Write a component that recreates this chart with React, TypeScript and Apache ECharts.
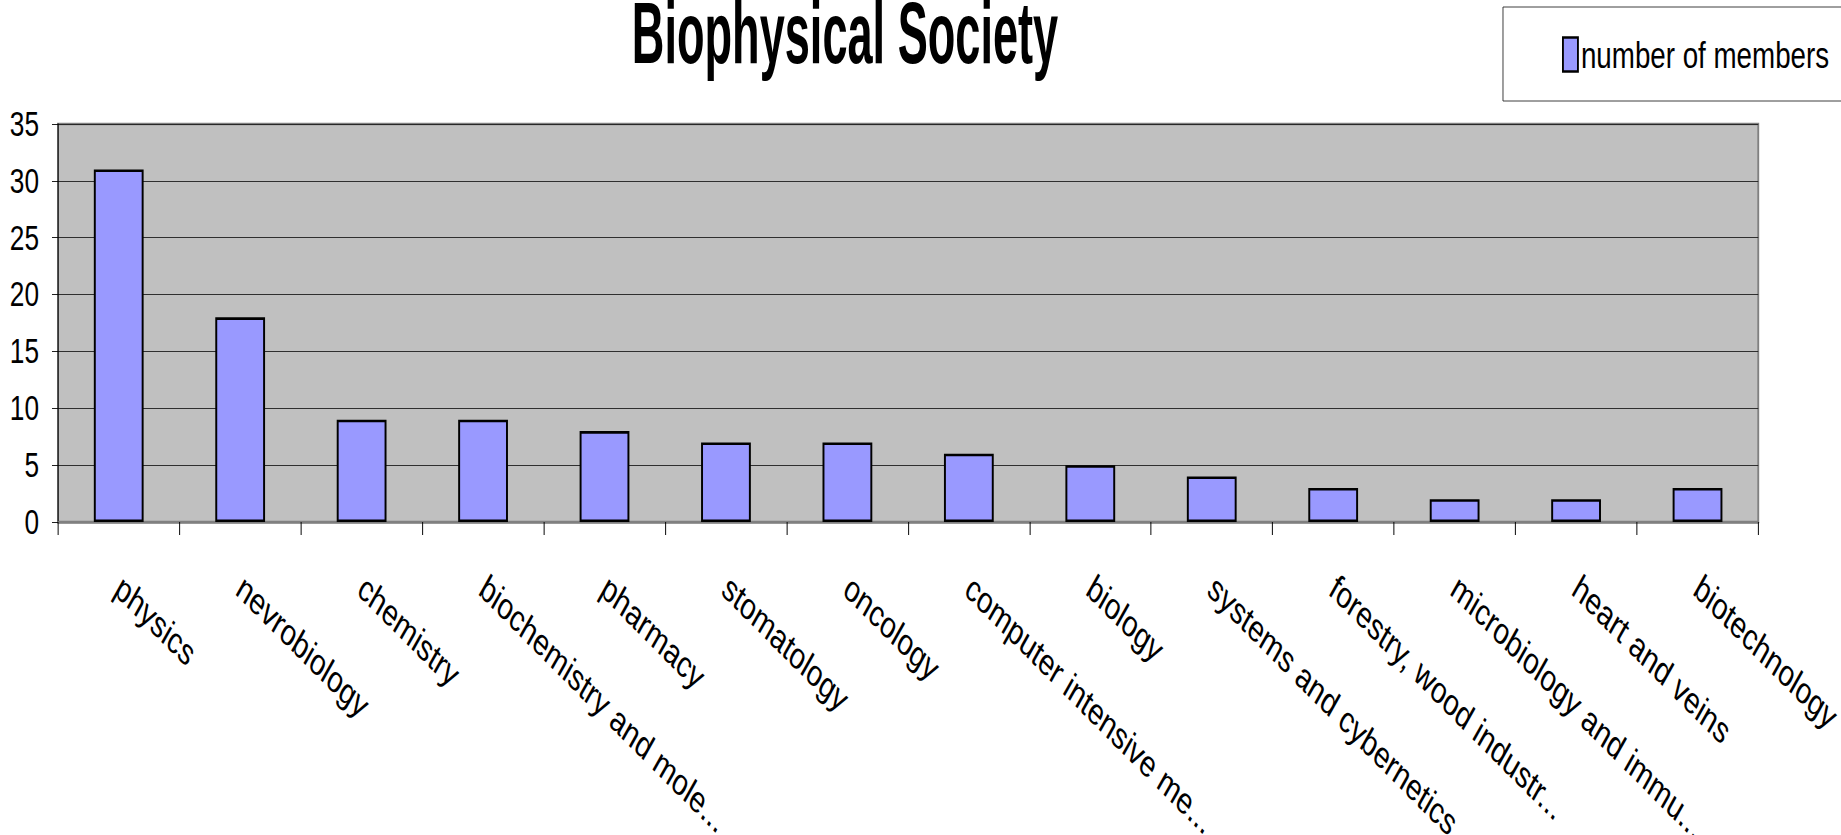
import React, { useEffect, useRef } from "react";
import * as echarts from "echarts";

const categories = [
  "physics",
  "nevrobiology",
  "chemistry",
  "biochemistry and mole...",
  "pharmacy",
  "stomatology",
  "oncology",
  "computer intensive me...",
  "biology",
  "systems and cybernetics",
  "forestry, wood industr...",
  "microbiology and immu...",
  "heart and veins",
  "biotechnology",
];
const members = [31, 18, 9, 9, 8, 7, 7, 6, 5, 4, 3, 2, 2, 3];
const seriesName = "number of members";
const titleText = "Biophysical Society";
const yMin = 0;
const yMax = 35;
const yInterval = 5;

// horizontal compression of the whole drawing (the reference's text is condensed)
const S = 0.75;
const W = 1841;
const H = 835;
const FONT = "'Liberation Sans', Arial, sans-serif";

export default function App() {
  const ref = useRef<HTMLDivElement>(null);
  useEffect(() => {
    if (!ref.current) return;
    const chart = echarts.init(ref.current, null, { renderer: "svg" });
    const sx = (v: number) => v / S;
    chart.setOption({
      animation: false,
      backgroundColor: "#ffffff",
      textStyle: { fontFamily: FONT },
      graphic: [
        {
          type: "text",
          x: sx(845),
          y: 33,
          scaleX: 0.513 / S,
          style: {
            text: titleText,
            font: "bold 88px 'Liberation Sans', Arial, sans-serif",
            fill: "#000",
            textAlign: "center",
            textVerticalAlign: "middle",
            align: "center",
            verticalAlign: "middle",
          },
        },
      ],
      legend: {
        left: sx(1503),
        top: 7,
        orient: "horizontal",
        padding: [29, sx(60), 28, sx(59)],
        backgroundColor: "#ffffff",
        borderColor: "#222",
        borderWidth: 1,
        itemWidth: sx(15),
        itemHeight: 34,
        itemGap: 5,
        icon: "rect",
        itemStyle: { color: "#9999FF", borderColor: "#000", borderWidth: 2.5 },
        textStyle: { fontFamily: FONT, fontSize: 37, color: "#000", padding: [0, 0, 0, -1] },
        data: [seriesName],
      },
      grid: {
        left: sx(58),
        right: sx(83),
        top: 124,
        bottom: H - 522,
        containLabel: false,
        outerBoundsMode: "none",
        show: true,
        backgroundColor: "#C0C0C0",
        borderColor: "#808080",
        borderWidth: 2.5,
      },
      xAxis: {
        type: "category",
        data: categories,
        boundaryGap: true,
        axisLine: { show: true, lineStyle: { color: "#808080", width: 2.5 } },
        axisTick: { show: true, length: 13, lineStyle: { color: "#000", width: 1.3 } },
        axisLabel: {
          interval: 0,
          rotate: -37,
          margin: 61,
          fontFamily: FONT,
          fontSize: 37,
          color: "#000",
        },
        splitLine: { show: false },
      },
      yAxis: {
        type: "value",
        min: yMin,
        max: yMax,
        interval: yInterval,
        axisLine: { show: true, lineStyle: { color: "#000", width: 1.3 } },
        axisTick: { show: true, length: sx(6), lineStyle: { color: "#000" } },
        axisLabel: {
          margin: sx(19),
          fontFamily: FONT,
          fontSize: 35,
          color: "#000",
          padding: [0, 0, 6, 0],
        },
        splitLine: { show: true, lineStyle: { color: "#1a1a1a", width: 1 } },
      },
      series: [
        {
          name: seriesName,
          type: "bar",
          data: members,
          barCategoryGap: "59%",
          itemStyle: { color: "#9999FF", borderColor: "#000", borderWidth: 2.6 },
        },
      ],
    });
    return () => chart.dispose();
  }, []);
  return (
    <div style={{ position: "fixed", left: 0, top: 0, width: W, height: H, overflow: "hidden", background: "#fff" }}>
      <div
        ref={ref}
        style={{
          width: W / S,
          height: H,
          transform: `scaleX(${S})`,
          transformOrigin: "0 0",
        }}
      />
    </div>
  );
}
